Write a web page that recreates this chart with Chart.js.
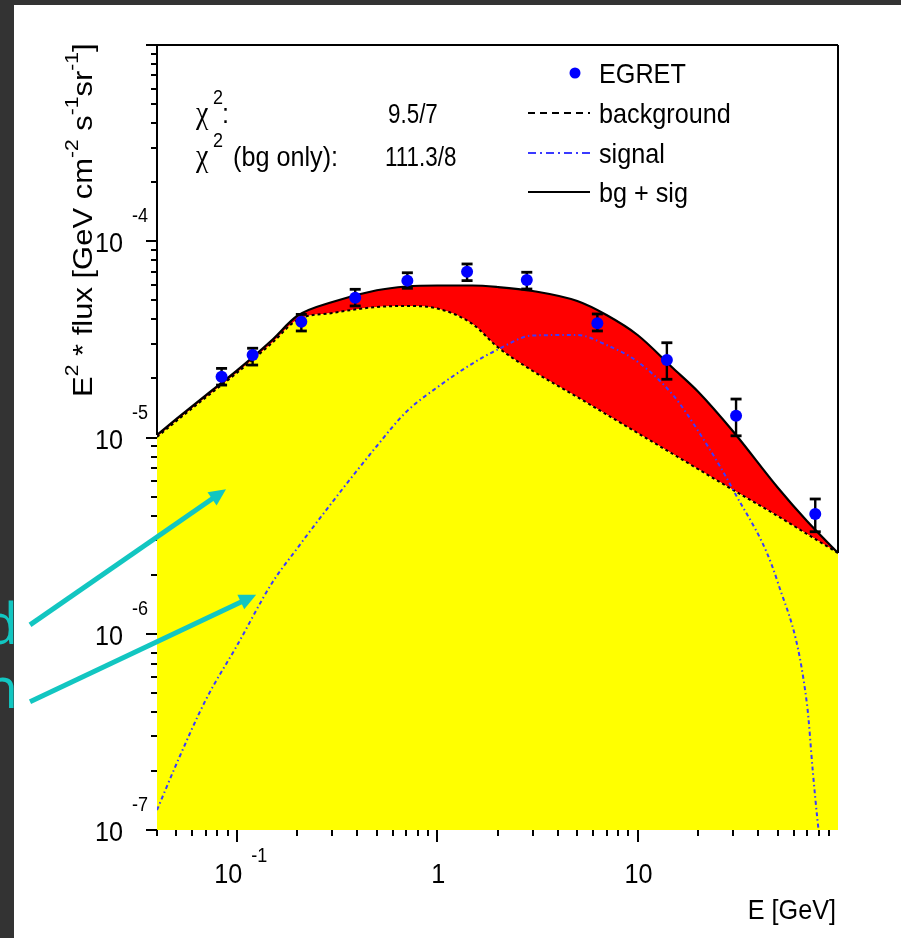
<!DOCTYPE html>
<html>
<head>
<meta charset="utf-8">
<title>EGRET spectrum: background + signal fit</title>
<script src="https://cdn.jsdelivr.net/npm/chart.js@4"></script>
<style>
  html, body { margin: 0; padding: 0; }
  body { width: 901px; height: 938px; background: #333333; position: relative; overflow: hidden; }
  #panel { position: absolute; left: 14px; top: 5px; right: 0; bottom: 0; background: #ffffff; }
  #spectrum { position: absolute; left: 0; top: 0; }
</style>
</head>
<body>
<div id="panel"></div>
<canvas id="spectrum" width="901" height="938"></canvas>
<script>
"use strict"

// model curves, E in GeV, E^2 * flux in GeV cm^-2 s^-1 sr^-1
const energyGrid = [0.04, 0.05, 0.07, 0.1, 0.15, 0.2, 0.3, 0.5, 0.7, 1, 1.5, 2, 3, 5, 7, 10, 15, 20, 30, 50, 70, 100];
const bgFlux = [1.006e-5, 1.214e-5, 1.599e-5, 2.131e-5, 3.030e-5, 3.970e-5, 4.309e-5, 4.624e-5, 4.679e-5, 4.543e-5, 3.788e-5, 2.891e-5,
                2.182e-5, 1.608e-5, 1.310e-5, 1.054e-5, 8.24e-6, 6.91e-6, 5.40e-6, 3.98e-6, 3.223e-6, 2.579e-6];
const totalFlux = [1.030e-5, 1.243e-5, 1.641e-5, 2.192e-5, 3.139e-5, 4.160e-5, 4.902e-5, 5.625e-5, 5.881e-5, 5.951e-5, 5.95e-5, 5.847e-5,
                   5.578e-5, 4.959e-5, 4.209e-5, 3.329e-5, 2.260e-5, 1.716e-5, 1.073e-5, 5.562e-6, 3.753e-6, 2.579e-6];

const signalEnergy = [0.04, 0.05, 0.07, 0.1, 0.15, 0.2, 0.3, 0.5, 0.7, 1, 1.5, 2, 3, 5, 7, 10, 15, 20, 30, 50, 70, 75, 79, 80];
const signalFlux = [1.264e-7, 2.169e-7, 4.597e-7, 8.662e-7, 1.814e-6, 2.719e-6, 4.691e-6, 9.05e-6, 1.349e-5, 1.80e-5, 2.382e-5, 2.802e-5,
                    3.309e-5, 3.329e-5, 2.960e-5, 2.433e-5, 1.647e-5, 1.085e-5, 5.40e-6, 1.835e-6, 4.39e-7, 1.95e-7, 1.12e-7, 1e-7];

// EGRET data points with error bars
const egretEnergy = [0.084, 0.12, 0.21, 0.39, 0.71, 1.41, 2.8, 6.3, 14, 31, 77];
const egretFlux = [2.04e-5, 2.63e-5, 3.89e-5, 5.16e-5, 6.30e-5, 7.00e-5, 6.35e-5, 3.82e-5, 2.48e-5, 1.29e-5, 4.08e-6];
const egretHigh = [2.25e-5, 2.85e-5, 4.24e-5, 5.69e-5, 6.91e-5, 7.66e-5, 6.95e-5, 4.26e-5, 3.04e-5, 1.57e-5, 4.86e-6];
const egretLow = [1.85e-5, 2.34e-5, 3.49e-5, 4.68e-5, 5.76e-5, 6.30e-5, 5.71e-5, 3.49e-5, 1.98e-5, 1.02e-5, 3.31e-6];

// axes
const xRange = [0.04, 100];
const yRange = [1e-7, 1e-3];
const xTickLabels = [0.1, 1, 10];
const yTickLabels = [1e-7, 1e-6, 1e-5, 1e-4];
const xTitle = "E [GeV]";
const yTitleParts = [["E", 0], ["2", 1], [" * flux [GeV cm", 0], ["-2", 1], [" s", 0], ["-1", 1], ["sr", 0], ["-1", 1], ["]", 0]];

const legendLabels = ["EGRET", "background", "signal", "bg + sig"];
const chiNames = [":", " (bg only):"];
const chiValues = ["9.5/7", "111.3/8"];

// arrows from the slide text into the plot: [E, flux] of tail and tip
const arrowTails = [[0.0093, 1.11e-6], [0.0093, 4.5e-7]];
const arrowTips = [[0.0884, 5.45e-6], [0.125, 1.58e-6]];
const arrowWords = ["d", "n"];

const sans = "'Liberation Sans', Arial, sans-serif";
const serif = "'Liberation Serif', 'Times New Roman', serif";
const squeeze = 0.9;   // the figure is a bit narrower than tall
const cyan = "#12c6c1";

let toPoints = function (xs, ys) {
    return xs.map((x, i) => ({ x: x, y: ys[i] }));
}

// text drawn slightly compressed in x
let putText = function (ctx, str, x, y, size, align, family, sq) {
    sq = sq || squeeze;
    ctx.save();
    ctx.font = size + "px " + (family || sans);
    ctx.textAlign = "left";
    ctx.textBaseline = "alphabetic";
    let w = ctx.measureText(str).width * sq;
    let left = x;
    if (align === "right") left = x - w;
    if (align === "center") left = x - w / 2;
    ctx.translate(left, y);
    ctx.scale(sq, 1);
    ctx.fillText(str, 0, 0);
    ctx.restore();
    return w;
}

let textWidth = function (ctx, str, size, family) {
    ctx.save();
    ctx.font = size + "px " + (family || sans);
    let w = ctx.measureText(str).width * squeeze;
    ctx.restore();
    return w;
}

let line = function (ctx, x0, y0, x1, y1) {
    ctx.beginPath();
    ctx.moveTo(x0, y0);
    ctx.lineTo(x1, y1);
    ctx.stroke();
}

let drawArrow = function (ctx, x0, y0, x1, y1) {
    const ang = Math.atan2(y1 - y0, x1 - x0);
    const c = Math.cos(ang), s = Math.sin(ang);
    const head = 17, half = 8;
    const bx = x1 - head * c, by = y1 - head * s;
    ctx.lineWidth = 5;
    line(ctx, x0, y0, bx + 2 * c, by + 2 * s);
    ctx.beginPath();
    ctx.moveTo(x1, y1);
    ctx.lineTo(bx - half * s, by + half * c);
    ctx.lineTo(bx + half * s, by - half * c);
    ctx.closePath();
    ctx.fill();
}

const decor = {
    id: "decor",

    // frame lines (left and bottom get covered by the fill where it reaches them)
    beforeDatasetsDraw(chart) {
        const ctx = chart.ctx, a = chart.chartArea, ys = chart.scales.y;
        ctx.save();
        ctx.strokeStyle = "#000";
        ctx.lineWidth = 2;
        line(ctx, a.left, a.top, a.right, a.top);
        line(ctx, a.left, a.top, a.left, ys.getPixelForValue(totalFlux[0]));
        line(ctx, a.right, a.top, a.right, ys.getPixelForValue(totalFlux[totalFlux.length - 1]));
        ctx.restore();
    },

    // error bars go under the EGRET markers
    beforeDatasetDraw(chart, args) {
        if (args.index !== 3) return;
        const ctx = chart.ctx, xs = chart.scales.x, ys = chart.scales.y;
        ctx.save();
        ctx.strokeStyle = "#000";
        egretEnergy.forEach((e, i) => {
            const px = xs.getPixelForValue(e);
            const top = ys.getPixelForValue(egretHigh[i]);
            const bot = ys.getPixelForValue(egretLow[i]);
            ctx.lineWidth = 2.4;
            line(ctx, px, top, px, bot);
            ctx.lineWidth = 2.8;
            line(ctx, px - 5.5, top, px + 5.5, top);
            line(ctx, px - 5.5, bot, px + 5.5, bot);
        });
        ctx.restore();
    },

    afterDraw(chart) {
        const ctx = chart.ctx, a = chart.chartArea;
        const xs = chart.scales.x, ys = chart.scales.y;
        ctx.save();
        ctx.fillStyle = "#000";
        ctx.strokeStyle = "#000";
        ctx.lineWidth = 2;

        // tick marks, outside the frame
        for (let d = -2; d <= 1; d++) {
            for (let m = 1; m <= 9; m++) {
                const v = m * Math.pow(10, d);
                if (v < xRange[0] * 0.999 || v >= xRange[1]) continue;
                const px = Math.round(xs.getPixelForValue(v));
                line(ctx, px, a.bottom, px, a.bottom + (m === 1 ? 12 : 6));
            }
        }
        for (let d = -7; d <= -3; d++) {
            for (let m = 1; m <= 9; m++) {
                const v = m * Math.pow(10, d);
                if (v < yRange[0] * 0.999 || v > yRange[1] * 1.001) continue;
                const py = Math.round(ys.getPixelForValue(v));
                line(ctx, a.left, py, a.left - (m === 1 ? 11 : 6), py);
            }
        }

        // tick labels
        xTickLabels.forEach(v => {
            const px = xs.getPixelForValue(v);
            const exp = Math.round(Math.log10(v));
            if (exp === 0 || exp === 1) {
                putText(ctx, String(v), px + 1, a.bottom + 53, 28, "center");
            } else {
                const sup = String(exp);
                const wb = textWidth(ctx, "10", 28), ws = textWidth(ctx, sup, 20);
                const left = px + 4 - (wb + 9 + ws) / 2;
                putText(ctx, "10", left, a.bottom + 53, 28);
                putText(ctx, sup, left + wb + 9, a.bottom + 32, 20);
            }
        });
        yTickLabels.forEach(v => {
            const py = ys.getPixelForValue(v);
            const exp = Math.round(Math.log10(v));
            putText(ctx, "10", 123, py + 11, 28, "right");
            putText(ctx, String(exp), 132, py - 19, 20);
        });

        // axis titles
        putText(ctx, xTitle, 836, 919, 28, "right");
        ctx.save();
        ctx.translate(92, 397);
        ctx.rotate(-Math.PI / 2);
        ctx.scale(1, squeeze);
        let cx = 0;
        yTitleParts.forEach(p => {
            ctx.font = (p[1] ? 21 : 31) + "px " + sans;
            ctx.fillText(p[0], cx, p[1] ? -14 / squeeze : 0);
            cx += ctx.measureText(p[0]).width;
        });
        ctx.restore();

        // fit quality
        [123, 166].forEach((base, i) => {
            putText(ctx, "\u03c7", 196, base, 31, "left", serif);
            putText(ctx, "2", 213, base - 19, 20);
            putText(ctx, chiNames[i], i === 0 ? 222 : 226, base, 28);
            putText(ctx, chiValues[i], i === 0 ? 388 : 385, base, 28, "left", sans, 0.8);
        });

        // legend
        const rows = [73, 113, 153, 192];
        ctx.fillStyle = "#0000ff";
        ctx.beginPath();
        ctx.arc(575, rows[0], 5.5, 0, 2 * Math.PI);
        ctx.fill();
        ctx.lineWidth = 2;
        ctx.strokeStyle = "#000";
        ctx.setLineDash([7, 5]);
        line(ctx, 528, rows[1], 590, rows[1]);
        ctx.strokeStyle = "#3a3aff";
        ctx.setLineDash([8, 4, 2, 4]);
        line(ctx, 528, rows[2], 590, rows[2]);
        ctx.strokeStyle = "#000";
        ctx.setLineDash([]);
        line(ctx, 528, rows[3], 590, rows[3]);
        ctx.fillStyle = "#000";
        legendLabels.forEach((t, i) => putText(ctx, t, 599, rows[i] + 10, 28));

        // slide annotations
        ctx.fillStyle = cyan;
        ctx.strokeStyle = cyan;
        ctx.lineCap = "butt";
        arrowTails.forEach((t, i) => {
            const x0 = xs.getPixelForValue(t[0]), y0 = ys.getPixelForValue(t[1]);
            const x1 = xs.getPixelForValue(arrowTips[i][0]), y1 = ys.getPixelForValue(arrowTips[i][1]);
            drawArrow(ctx, x0, y0, x1, y1);
            ctx.font = "56px 'Open Sans', sans-serif";
            ctx.textAlign = "right";
            ctx.fillText(arrowWords[i], x0 - 12, y0 + (i === 0 ? 19 : 6));
        });
        ctx.restore();
    }
};

window.onload = function () {
    const canvas = document.getElementById("spectrum");

    new Chart(canvas, {
        type: "line",
        data: {
            datasets: [{
                label: "background",
                data: toPoints(energyGrid, bgFlux),
                borderColor: "#000",
                borderWidth: 2,
                borderDash: [3, 3],
                backgroundColor: "#ffff00",
                fill: "start",
                pointRadius: 0,
                cubicInterpolationMode: "monotone",
                order: 2
            }, {
                label: "bg + sig",
                data: toPoints(energyGrid, totalFlux),
                borderColor: "#000",
                borderWidth: 2.2,
                backgroundColor: "#ff0000",
                fill: "-1",
                pointRadius: 0,
                cubicInterpolationMode: "monotone",
                order: 3
            }, {
                label: "signal",
                data: toPoints(signalEnergy, signalFlux),
                borderColor: "#3a3aff",
                borderWidth: 2,
                borderDash: [4, 3, 1.5, 3],
                fill: false,
                pointRadius: 0,
                cubicInterpolationMode: "monotone",
                order: 1
            }, {
                label: "EGRET",
                data: toPoints(egretEnergy, egretFlux),
                showLine: false,
                pointRadius: 6,
                pointBackgroundColor: "#0000ff",
                pointBorderColor: "#0000ff",
                pointBorderWidth: 0,
                order: 0
            }]
        },
        options: {
            responsive: false,
            animation: false,
            events: [],
            layout: { padding: { top: 45, right: 63, left: 0, bottom: 0 } },
            plugins: {
                legend: { display: false },
                tooltip: { enabled: false },
                filler: { drawTime: "beforeDatasetsDraw" }
            },
            scales: {
                x: {
                    type: "logarithmic",
                    min: xRange[0],
                    max: xRange[1],
                    ticks: { display: false },
                    grid: { display: false },
                    border: { display: false },
                    afterFit: function (scale) { scale.height = 108; }
                },
                y: {
                    type: "logarithmic",
                    min: yRange[0],
                    max: yRange[1],
                    ticks: { display: false },
                    grid: { display: false },
                    border: { display: false },
                    afterFit: function (scale) { scale.width = 157; }
                }
            }
        },
        plugins: [decor]
    });
}
</script>
</body>
</html>
